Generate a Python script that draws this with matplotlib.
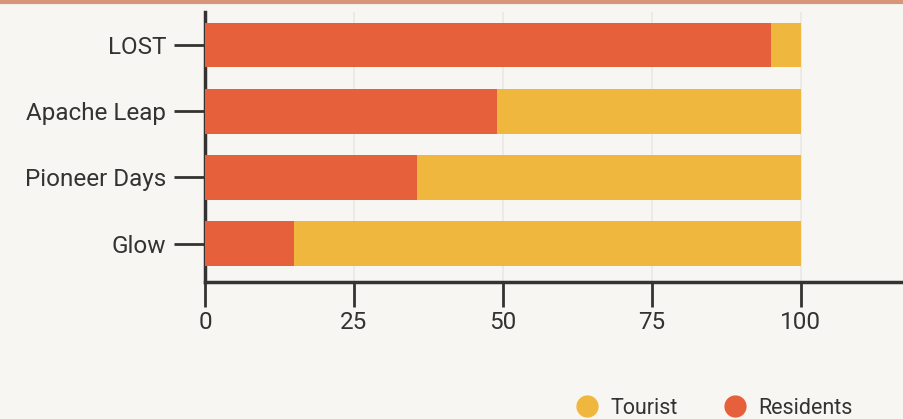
import matplotlib.pyplot as plt
from matplotlib.lines import Line2D

events = ['Glow', 'Pioneer Days', 'Apache Leap', 'LOST']
residents = [15, 35.5, 49, 95]
tourist = [85, 64.5, 51, 5]

c_res = '#e5603b'
c_tour = '#f0b73e'
bg = '#f7f6f2'
ink = '#333333'

plt.rcParams['font.family'] = ['Roboto', 'DejaVu Sans']

fig = plt.figure(figsize=(9.04, 4.19), dpi=100, facecolor=bg)
ax = fig.add_axes([0.2268, 0.327, 0.7732, 0.644])
ax.set_facecolor(bg)

y = list(range(len(events)))
ax.barh(y, residents, height=0.67, color=c_res, zorder=3)
ax.barh(y, tourist, left=residents, height=0.67, color=c_tour, zorder=3)

ax.set_xlim(0, 117.3)
ax.set_ylim(-0.58, 3.5)
ax.set_xticks([0, 25, 50, 75, 100])
ax.set_yticks(y)
ax.set_yticklabels(events)
ax.grid(axis='x', color='#eae8e3', linewidth=1.2, zorder=0)

ax.tick_params(axis='y', length=22, width=2, color=ink, labelsize=17.5,
               labelcolor=ink, pad=6)
ax.tick_params(axis='x', length=18, width=2, color=ink, labelsize=17.5,
               labelcolor=ink, pad=3)
for s in ['top', 'right']:
    ax.spines[s].set_visible(False)
for s in ['left', 'bottom']:
    ax.spines[s].set_color(ink)
    ax.spines[s].set_linewidth(2.5)

# top border line
fig.add_artist(Line2D([0, 1], [0.996, 0.996], transform=fig.transFigure,
                      color='#d9957a', linewidth=3))

handles = [Line2D([], [], marker='o', linestyle='', markersize=15,
                  markerfacecolor=c_tour, markeredgecolor=c_tour),
           Line2D([], [], marker='o', linestyle='', markersize=15,
                  markerfacecolor=c_res, markeredgecolor=c_res)]
fig.legend(handles, ['Tourist', 'Residents'], loc='center right',
           bbox_to_anchor=(0.965, 0.025), ncol=2, frameon=False,
           fontsize=15.5, handlelength=1.5, handletextpad=0.35,
           columnspacing=1.9, labelcolor=ink)

fig.savefig('out.png', dpi=100, facecolor=bg)
